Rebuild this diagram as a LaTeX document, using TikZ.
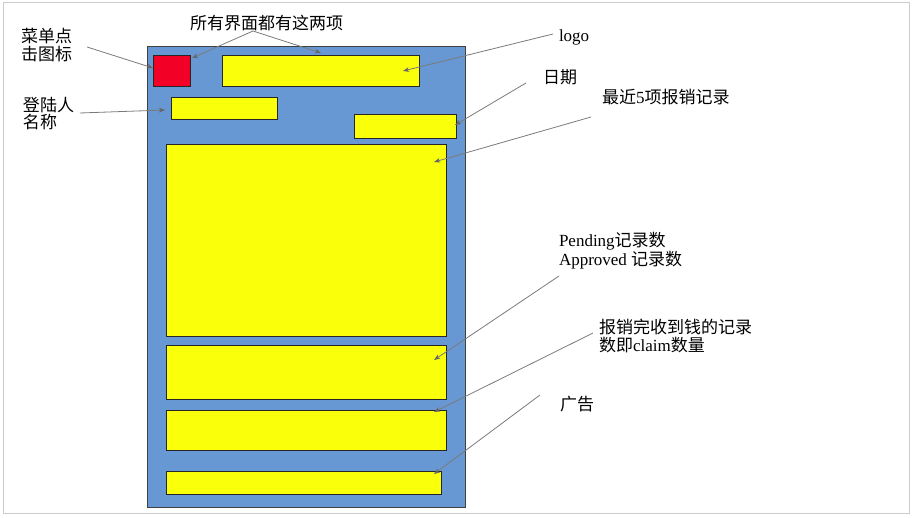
\documentclass[tikz,border=0pt]{standalone}
\usepackage{fontspec}
\setmainfont{Liberation Serif}
\newfontfamily\cjk{Noto Sans CJK SC}
\usetikzlibrary{arrows.meta}
\definecolor{framebg}{HTML}{6798D3}
\definecolor{boxyel}{HTML}{FAFF0A}
\definecolor{boxred}{HTML}{F20026}
\definecolor{pagegray}{HTML}{CCCCCC}
\definecolor{arrgray}{HTML}{7A7A7A}
\tikzset{
  base/.style={inner sep=0pt, outer sep=0pt, anchor=center},
  frame/.style={base, fill=framebg, draw=black!75, line width=1pt},
  ybox/.style={base, fill=boxyel, draw=black!85, line width=0.9pt},
  rbox/.style={base, fill=boxred, draw=black!85, line width=0.9pt},
  lbl/.style={inner sep=0pt, outer sep=0pt, anchor=west, align=left,
     font=\fontsize{17}{17.5}\selectfont},
  callout/.style={draw=arrgray, line width=0.8pt,
     -{Stealth[length=6pt, width=4.5pt, inset=1.5pt, color=black!60]}}
}
\begin{document}
\begin{tikzpicture}[x=1pt, y=-1pt]
\useasboundingbox (0,0) rectangle (915,518);
\draw[pagegray, line width=1pt] (3,3) rectangle (909,513);

% boxes
\node[frame, minimum width=318pt, minimum height=460pt] (frame) at (306,277) {};
\node[rbox, minimum width=37pt, minimum height=31pt] (menu) at (171.5,70.5) {};
\node[ybox, minimum width=197pt, minimum height=31pt] (logobar) at (320.5,70.5) {};
\node[ybox, minimum width=106pt, minimum height=22pt] (login) at (224,108) {};
\node[ybox, minimum width=102pt, minimum height=24pt] (date) at (405,126) {};
\node[ybox, minimum width=280pt, minimum height=192pt] (recent) at (306,240) {};
\node[ybox, minimum width=280pt, minimum height=54pt] (counts) at (306,372) {};
\node[ybox, minimum width=280pt, minimum height=40pt] (claims) at (306,430) {};
\node[ybox, minimum width=275pt, minimum height=23pt] (ad) at (303.5,482.5) {};

% labels
\node[lbl] (tmenu) at (21,45) {\cjk 菜单点\\\cjk 击图标};
\node[lbl] (tall) at (190,23) {\cjk 所有界面都有这两项};
\node[lbl] (tlogin) at (23,113.5) {\cjk 登陆人\\\cjk 名称};
\node[lbl] (tlogo) at (559,37) {logo};
\node[lbl] (tdate) at (543,77) {\cjk 日期};
\node[lbl] (trecent) at (602,97) {{\cjk 最近}5{\cjk 项报销记录}};
\node[lbl] (tcounts) at (559,250.5) {Pending{\cjk 记录数}\\Approved {\cjk 记录数}};
\node[lbl] (tclaims) at (599,336) {{\cjk 报销完收到钱的记录}\\{\cjk 数即}claim{\cjk 数量}};
\node[lbl] (tad) at (560,404) {\cjk 广告};

% connector end points
\coordinate (smenu) at (87,47);    \coordinate (emenu) at (153,68);
\coordinate (sall) at (253,31);
\coordinate (eall1) at (192,58);   \coordinate (eall2) at (321,53);
\coordinate (slogin) at (80,113);  \coordinate (elogin) at (165,110);
\coordinate (slogo) at (553,34);   \coordinate (elogo) at (403,71);
\coordinate (sdate) at (526,83);   \coordinate (edate) at (455,125);
\coordinate (srecent) at (591,117);\coordinate (erecent) at (434,162);
\coordinate (scounts) at (559,276);\coordinate (ecounts) at (434,360);
\coordinate (sclaims) at (593,333);\coordinate (eclaims) at (434,412);
\coordinate (sad) at (540,395);    \coordinate (ead) at (434,474);

\draw[callout] (smenu) -- (emenu);
\draw[callout] (sall) -- (eall1);
\draw[callout] (sall) -- (eall2);
\draw[callout] (slogin) -- (elogin);
\draw[callout] (slogo) -- (elogo);
\draw[callout] (sdate) -- (edate);
\draw[callout] (srecent) -- (erecent);
\draw[callout] (scounts) -- (ecounts);
\draw[callout] (sclaims) -- (eclaims);
\draw[callout] (sad) -- (ead);
\end{tikzpicture}
\end{document}
